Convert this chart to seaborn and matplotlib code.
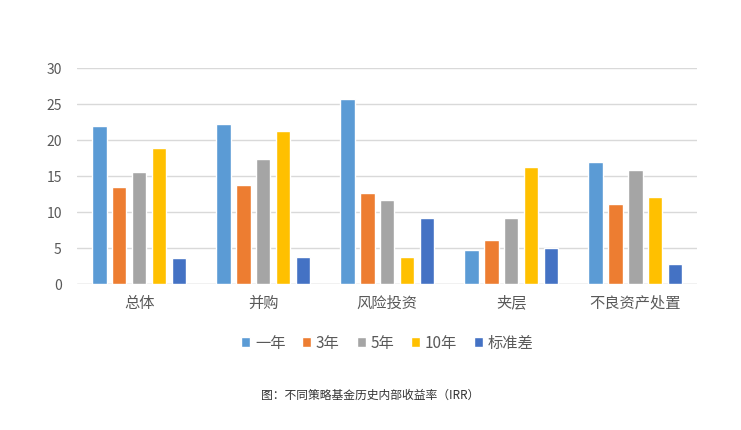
import pandas as pd
import matplotlib.pyplot as plt
import seaborn as sns

categories = ["总体", "并购", "风险投资", "夹层", "不良资产处置"]
series = ["一年", "3年", "5年", "10年", "标准差"]
one_year = [21.9, 22.2, 25.7, 4.7, 16.9]
three_year = [13.5, 13.7, 12.6, 6.1, 11.1]
five_year = [15.6, 17.3, 11.6, 9.1, 15.8]
ten_year = [18.9, 21.2, 3.7, 16.2, 12.1]
std_dev = [3.6, 3.8, 9.1, 5.0, 2.7]
colors = ["#5B9BD5", "#ED7D31", "#A5A5A5", "#FFC000", "#4472C4"]

rows = []
for name, vals in zip(series, [one_year, three_year, five_year, ten_year, std_dev]):
    for cat, v in zip(categories, vals):
        rows.append({"策略": cat, "期间": name, "IRR": v})
df = pd.DataFrame(rows)

sns.set_theme(style="white")
plt.rcParams['font.family'] = ['Noto Sans CJK SC', 'DejaVu Sans']

fig = plt.figure(figsize=(7.41, 4.31), dpi=100)
ax = fig.add_axes([0.104, 0.339, 0.837, 0.501])

sns.barplot(data=df, x="策略", y="IRR", hue="期间", palette=colors,
            width=0.8, gap=0.27, ax=ax, saturation=1, legend=True)

ax.set_ylim(0, 30)
ax.set_xlim(-0.5, 4.5)
ax.set_yticks(range(0, 31, 5))
ax.yaxis.grid(True, color="#d9d9d9", linewidth=1)
ax.set_axisbelow(True)
for s in ax.spines.values():
    s.set_visible(False)
ax.axhline(0, color="#d9d9d9", linewidth=1, zorder=0)
ax.set_xlabel("")
ax.set_ylabel("")
ax.tick_params(axis="y", length=0, labelsize=10, labelcolor="#595959", pad=11)
ax.tick_params(axis="x", length=0, labelsize=11, labelcolor="#595959", pad=7)

ax.legend(loc="upper center", bbox_to_anchor=(0.5, -0.17), ncol=5, frameon=False,
          fontsize=11, handlelength=0.6, handleheight=0.6, handletextpad=0.3,
          columnspacing=1.1, labelcolor="#595959")

fig.text(0.5, 0.083, "图：不同策略基金历史内部收益率（IRR）", ha="center", va="center",
         fontsize=8.5, color="#333333")

fig.savefig("out.png", dpi=100)
